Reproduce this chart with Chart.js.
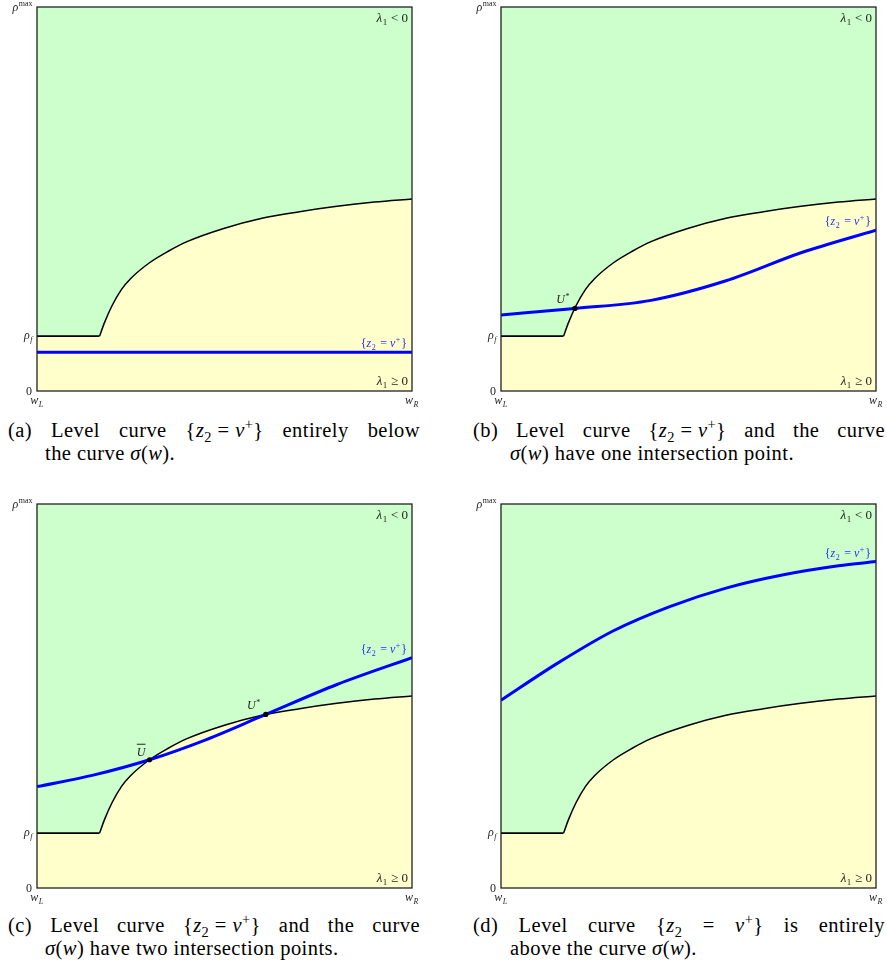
<!DOCTYPE html>
<html>
<head>
<meta charset="utf-8">
<script src="https://cdn.jsdelivr.net/npm/chart.js@4.4.1/dist/chart.umd.min.js"></script>
<style>
  body { margin: 0; background: #fff; width: 887px; height: 969px; position: relative; overflow: hidden; font-family: "Liberation Serif", serif; }
  canvas { position: absolute; }
  .cap { position: absolute; width: 412px; font-size: 20.5px; line-height: 23px; color: #000; letter-spacing: 0.45px; }
  .cap .l1 { text-align: justify; text-align-last: justify; }
  .cap .l2 { padding-left: 37px; }
  .m { display: inline-block; }
  sub, sup { font-size: 70%; line-height: 0; }
</style>
</head>
<body>
<canvas id="pa" width="430" height="410" style="left:0;top:0"></canvas>
<canvas id="pb" width="430" height="410" style="left:464px;top:0"></canvas>
<canvas id="pc" width="430" height="410" style="left:0;top:497px"></canvas>
<canvas id="pd" width="430" height="410" style="left:464px;top:497px"></canvas>

<div class="cap" style="left:8px;top:419px">
  <div class="l1">(a) Level curve <span class="m">{<i>z</i><sub>2</sub> = <i>v</i><sup>+</sup>}</span> entirely below</div>
  <div class="l2">the curve <i>σ</i>(<i>w</i>).</div>
</div>
<div class="cap" style="left:473px;top:419px">
  <div class="l1">(b) Level curve <span class="m">{<i>z</i><sub>2</sub> = <i>v</i><sup>+</sup>}</span> and the curve</div>
  <div class="l2"><i>σ</i>(<i>w</i>) have one intersection point.</div>
</div>
<div class="cap" style="left:8px;top:914px">
  <div class="l1">(c) Level curve <span class="m">{<i>z</i><sub>2</sub> = <i>v</i><sup>+</sup>}</span> and the curve</div>
  <div class="l2"><i>σ</i>(<i>w</i>) have two intersection points.</div>
</div>
<div class="cap" style="left:473px;top:914px">
  <div class="l1">(d) Level curve {<i>z</i><sub>2</sub> = <i>v</i><sup>+</sup>} is entirely</div>
  <div class="l2">above the curve <i>σ</i>(<i>w</i>).</div>
</div>

<script>
// axes: w from w_L (0) to w_R (1), rho from 0 to rho_max (1)
const rhoF = 0.143;
const yTickValues = [0, rhoF, 1];
const xTickValues = [0, 1];

// sigma(w): flat part then the rising branch
const sigmaFlatW = [0, 0.167];
const sigmaFlatRho = [rhoF, rhoF];
const sigmaW = [0.167, 0.18, 0.2, 0.225, 0.25, 0.3, 0.35, 0.4, 0.5, 0.6, 0.7, 0.8, 0.9, 1];
const sigmaRho = [rhoF, 0.178, 0.222, 0.264, 0.293, 0.334, 0.364, 0.389, 0.424, 0.45, 0.467, 0.481, 0.492, 0.5];

// level curves {z2 = v+}
const blueAW = [0, 1];
const blueARho = [0.101, 0.101];
const blueBW = [0, 0.197, 0.4, 0.6, 0.8, 1];
const blueBRho = [0.198, 0.215, 0.236, 0.287, 0.36, 0.419];
const blueCW = [0, 0.15, 0.3, 0.45, 0.61, 0.8, 1];
const blueCRho = [0.264, 0.294, 0.334, 0.386, 0.452, 0.53, 0.6];
const blueDW = [0, 0.15, 0.3, 0.45, 0.6, 0.75, 0.9, 1];
const blueDRho = [0.489, 0.585, 0.67, 0.733, 0.781, 0.815, 0.839, 0.85];

// intersection points and their names
const dotsB = [{ x: 0.197, y: 0.215 }];
const dotsBNames = ['U*'];
const dotsC = [{ x: 0.3, y: 0.334 }, { x: 0.61, y: 0.452 }];
const dotsCNames = ['Ubar', 'U*'];

const GREEN = '#ccffcc';
const YELLOW = '#ffffcc';
const BLUE = '#0000ff';
const INK = '#222';

function zip(xs, ys) {
  return xs.map((x, i) => ({ x: x, y: ys[i] }));
}

// base text with subscript / superscript
function mathText(ctx, x, y, base, sub, sup, size, align, color, italicBase, italicSmall) {
  const small = Math.round(size * 0.68);
  const baseFont = (italicBase ? 'italic ' : '') + size + 'px "Liberation Serif"';
  const smallFont = (italicSmall ? 'italic ' : '') + small + 'px "Liberation Serif"';
  ctx.font = baseFont;
  const wb = ctx.measureText(base).width;
  ctx.font = smallFont;
  const ws = sub ? ctx.measureText(sub).width : 0;
  const wp = sup ? ctx.measureText(sup).width : 0;
  const total = wb + Math.max(ws, wp) + 1;
  let x0 = x;
  if (align === 'right') x0 = x - total;
  if (align === 'center') x0 = x - total / 2;
  ctx.fillStyle = color;
  ctx.textAlign = 'left';
  ctx.textBaseline = 'alphabetic';
  ctx.font = baseFont;
  ctx.fillText(base, x0, y);
  ctx.font = smallFont;
  if (sub) ctx.fillText(sub, x0 + wb + 0.5, y + size * 0.22);
  if (sup) ctx.fillText(sup, x0 + wb + 0.5, y - size * 0.4);
  return total;
}

function regionLabel(ctx, xr, y, rel) {
  ctx.font = '13px "Liberation Serif"';
  const w = ctx.measureText(' ' + rel).width;
  ctx.fillStyle = INK;
  ctx.textAlign = 'right';
  ctx.textBaseline = 'alphabetic';
  ctx.fillText(' ' + rel, xr, y);
  mathText(ctx, xr - w, y, 'λ', '1', '', 13, 'right', INK, true, false);
}

function levelLabel(ctx, rx, ly) {
  ctx.font = '12px "Liberation Serif"';
  const wBr = ctx.measureText('{').width;
  const wBr2 = ctx.measureText('}').width;
  const wEq = ctx.measureText(' = ').width;
  ctx.font = 'italic 12px "Liberation Serif"';
  const wz = ctx.measureText('z').width, wv = ctx.measureText('v').width;
  const sw = 6;
  let cx = rx - (wBr + wz + sw + wEq + wv + sw + wBr2);
  ctx.fillStyle = '#2b2bff';
  ctx.textAlign = 'left';
  ctx.textBaseline = 'alphabetic';
  ctx.font = '12px "Liberation Serif"';
  ctx.fillText('{', cx, ly); cx += wBr;
  ctx.font = 'italic 12px "Liberation Serif"';
  ctx.fillText('z', cx, ly); cx += wz;
  ctx.font = '8px "Liberation Serif"';
  ctx.fillText('2', cx + 0.5, ly + 3); cx += sw;
  ctx.font = '12px "Liberation Serif"';
  ctx.fillText(' = ', cx, ly); cx += wEq;
  ctx.font = 'italic 12px "Liberation Serif"';
  ctx.fillText('v', cx, ly); cx += wv;
  ctx.font = '8px "Liberation Serif"';
  ctx.fillText('+', cx + 0.5, ly - 5); cx += sw;
  ctx.font = '12px "Liberation Serif"';
  ctx.fillText('}', cx, ly);
}

const framePlugin = {
  id: 'frame',
  beforeDatasetsDraw(chart) {
    const { ctx, chartArea: a, scales } = chart;
    ctx.save();
    ctx.fillStyle = GREEN;
    ctx.fillRect(a.left, a.top, a.width, a.height);
    // everything under rho_f lies below sigma
    const yf = scales.y.getPixelForValue(rhoF);
    ctx.fillStyle = YELLOW;
    ctx.fillRect(a.left, yf, a.width, a.bottom - yf);
    ctx.restore();
  },
  afterDraw(chart) {
    const { ctx, chartArea: a, scales } = chart;
    const o = chart.options.plugins.frame;
    const xs = scales.x, ys = scales.y;
    ctx.save();
    ctx.strokeStyle = INK;
    ctx.lineWidth = 1.3;
    ctx.strokeRect(a.left, a.top, a.width, a.height);

    // y tick labels
    const tx = a.left - 4;
    mathText(ctx, tx, ys.getPixelForValue(yTickValues[0]) + 4, '0', '', '', 12, 'right', INK, false, false);
    mathText(ctx, tx, ys.getPixelForValue(yTickValues[1]) + 3, 'ρ', 'f', '', 12, 'right', INK, true, true);
    mathText(ctx, tx, ys.getPixelForValue(yTickValues[2]) + 4, 'ρ', '', 'max', 12, 'right', INK, true, false);
    // x tick labels
    const ty = a.bottom + 13;
    mathText(ctx, xs.getPixelForValue(xTickValues[0]), ty, 'w', 'L', '', 12, 'center', INK, true, true);
    mathText(ctx, xs.getPixelForValue(xTickValues[1]), ty, 'w', 'R', '', 12, 'center', INK, true, true);

    regionLabel(ctx, a.right - 4, a.top + 15, '< 0');
    regionLabel(ctx, a.right - 4, a.bottom - 6, '≥ 0');

    levelLabel(ctx, a.right - 5, ys.getPixelForValue(o.blueEnd) - 5);

    // point names
    (o.dots || []).forEach((p, i) => {
      const px = xs.getPixelForValue(p.x), py = ys.getPixelForValue(p.y);
      if (o.names[i] === 'U*') {
        mathText(ctx, px - 5, py - 5, 'U', '', '*', 12, 'right', INK, true, false);
      } else {
        ctx.font = 'italic 12px "Liberation Serif"';
        const uw = ctx.measureText('U').width;
        mathText(ctx, px - 4 - uw, py - 4, 'U', '', '', 12, 'left', INK, true, false);
        ctx.strokeStyle = INK;
        ctx.lineWidth = 1;
        ctx.beginPath();
        ctx.moveTo(px - 4 - uw, py - 15.5);
        ctx.lineTo(px - 4, py - 15.5);
        ctx.stroke();
      }
    });
    ctx.restore();
  }
};

function makePanel(id, blueW, blueRho, dots, names) {
  const ctx = document.getElementById(id).getContext('2d');
  return new Chart(ctx, {
    type: 'line',
    data: {
      datasets: [
        {
          type: 'scatter',
          data: dots,
          pointRadius: 2.6,
          pointBackgroundColor: '#000',
          pointBorderWidth: 0,
          showLine: false
        },
        {
          data: zip(blueW, blueRho),
          borderColor: BLUE,
          borderWidth: 3,
          pointRadius: 0,
          fill: false,
          cubicInterpolationMode: 'monotone'
        },
        {
          data: zip(sigmaW, sigmaRho),
          borderColor: '#000',
          borderWidth: 1.5,
          pointRadius: 0,
          backgroundColor: YELLOW,
          fill: 'origin',
          cubicInterpolationMode: 'monotone'
        },
        {
          data: zip(sigmaFlatW, sigmaFlatRho),
          borderColor: '#000',
          borderWidth: 1.6,
          pointRadius: 0,
          fill: false,
          tension: 0
        }
      ]
    },
    options: {
      responsive: false,
      animation: false,
      devicePixelRatio: 1,
      layout: { padding: { left: 37, right: 18, top: 7, bottom: 19 } },
      scales: {
        x: { type: 'linear', min: 0, max: 1, display: false },
        y: { type: 'linear', min: 0, max: 1, display: false }
      },
      plugins: {
        legend: { display: false },
        tooltip: { enabled: false },
        frame: { blueEnd: blueRho[blueRho.length - 1], dots: dots, names: names }
      }
    },
    plugins: [framePlugin]
  });
}

makePanel('pa', blueAW, blueARho, [], []);
makePanel('pb', blueBW, blueBRho, dotsB, dotsBNames);
makePanel('pc', blueCW, blueCRho, dotsC, dotsCNames);
makePanel('pd', blueDW, blueDRho, [], []);
</script>
</body>
</html>
